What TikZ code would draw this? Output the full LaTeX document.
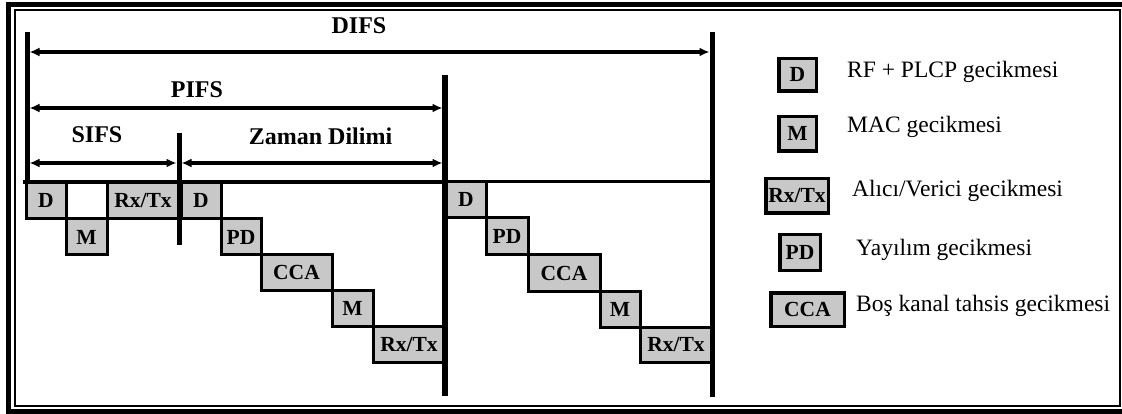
\documentclass[tikz,border=0pt]{standalone}
\usepackage{fontspec}
\setmainfont{Liberation Serif}
\usetikzlibrary{arrows.meta}
\definecolor{boxgray}{RGB}{200,200,200}
\begin{document}
\begin{tikzpicture}[x=1pt,y=-1pt,
  tl/.style={line width=3.5pt},
  vline/.style={line width=5pt},
  dim/.style={line width=3.5pt,{Latex[length=10pt,width=9pt]}-{Latex[length=10pt,width=9pt]}},
  box/.style={draw,line width=3pt,fill=boxgray,inner sep=0pt,outer sep=0pt,
    font=\fontsize{21.5}{21.5}\selectfont\bfseries,text height=14pt,text depth=0pt},
  lbox/.style={box,line width=3.5pt},
  lbl/.style={font=\fontsize{24}{24}\selectfont\bfseries,inner sep=0pt},
  leg/.style={font=\fontsize{23.5}{23.5}\selectfont,anchor=base west,inner sep=0pt},
]
\useasboundingbox (0,0) rectangle (1122,414);
\clip (0,0) rectangle (1122,414);
\fill[white] (0,0) rectangle (1122,414);
% frame
\draw[line width=5pt] (8.5,4.5) rectangle (1135,411);
\draw[line width=2pt] (14.5,10.5) rectangle (1120,406);

% timeline boxes, group 1
\node[box,minimum width=40,minimum height=37] (d1) at (46,200.5) {D};
\node[box,minimum width=41,minimum height=36] (m1) at (86.5,237) {M};
\node[box,minimum width=72,minimum height=37] (rt1) at (143,200.5) {Rx/Tx};
% group 2
\node[box,minimum width=40,minimum height=37] (d2) at (201,200.5) {D};
\node[box,minimum width=40,minimum height=36] (pd2) at (241,237) {PD};
\node[box,minimum width=71,minimum height=35] (cca2) at (296.5,272.5) {CCA};
\node[box,minimum width=41,minimum height=36] (m2) at (352.5,308) {M};
\node[box,minimum width=72,minimum height=36] (rt2) at (409,344) {Rx/Tx};
% group 3
\node[box,minimum width=40,minimum height=36] (d3) at (466,200) {D};
\node[box,minimum width=42,minimum height=37] (pd3) at (507,236.5) {PD};
\node[box,minimum width=72,minimum height=36] (cca3) at (564,273) {CCA};
\node[box,minimum width=40,minimum height=36] (m3) at (620,309) {M};
\node[box,minimum width=72,minimum height=35] (rt3) at (676,344.5) {Rx/Tx};

% timeline and vertical lines
\coordinate (tl0) at (23,182);
\coordinate (tl1) at (445,182);
\coordinate (tl2) at (712,182);
\draw[tl] (tl0) -- (tl1);
\draw[line width=3pt] (tl1) -- (tl2);

\coordinate (v0t) at (27,32);   \coordinate (v0b) at (27,183);
\coordinate (vst) at (179,133); \coordinate (vsb) at (179,245);
\coordinate (vpt) at (445,75);  \coordinate (vpb) at (445,396);
\coordinate (vdt) at (712,32);  \coordinate (vdb) at (712,397);
\draw[vline] (v0t) -- (v0b);
\draw[vline] (vst) -- (vsb);
\draw[line width=5.5pt] (vpt) -- (vpb);
\draw[line width=5pt] (vdt) -- (vdb);

% dimension arrows
\coordinate (a1l) at (29.5,52);  \coordinate (a1r) at (709.5,52);
\coordinate (a2l) at (29.5,108); \coordinate (a2r) at (442.5,108);
\coordinate (a3l) at (29.5,163); \coordinate (a3r) at (176.5,163);
\coordinate (a4l) at (181.5,163);\coordinate (a4r) at (442.5,163);
\draw[dim] (a1l) -- (a1r);
\draw[dim] (a2l) -- (a2r);
\draw[dim] (a3l) -- (a3r);
\draw[dim] (a4l) -- (a4r);

\node[lbl] (difs) at (359,26) {DIFS};
\node[lbl] (pifs) at (197,89.5) {PIFS};
\node[lbl] (sifs) at (97,135) {SIFS};
\node[lbl] (zd) at (320.5,136) {Zaman Dilimi};

% legend
\node[lbox,minimum width=37.5,minimum height=32.5] (ld) at (797.5,75) {D};
\node[lbox,minimum width=37.5,minimum height=34.5] (lm) at (797.5,134) {M};
\node[lbox,minimum width=62.5,minimum height=34.5] (lrt) at (797,196) {Rx/Tx};
\node[lbox,minimum width=40.5,minimum height=35.5] (lpd) at (800,252.5) {PD};
\node[lbox,minimum width=73.5,minimum height=33.5] (lcca) at (807.5,309.5) {CCA};

\node[leg] (t1) at (847,78) {RF + PLCP gecikmesi};
\node[leg] (t2) at (847,133) {MAC gecikmesi};
\node[leg] (t3) at (852,196.5) {Alıcı/Verici gecikmesi};
\node[leg] (t4) at (856,255) {Yayılım gecikmesi};
\node[leg] (t5) at (856,311) {Boş kanal tahsis gecikmesi};
\end{tikzpicture}
\end{document}
